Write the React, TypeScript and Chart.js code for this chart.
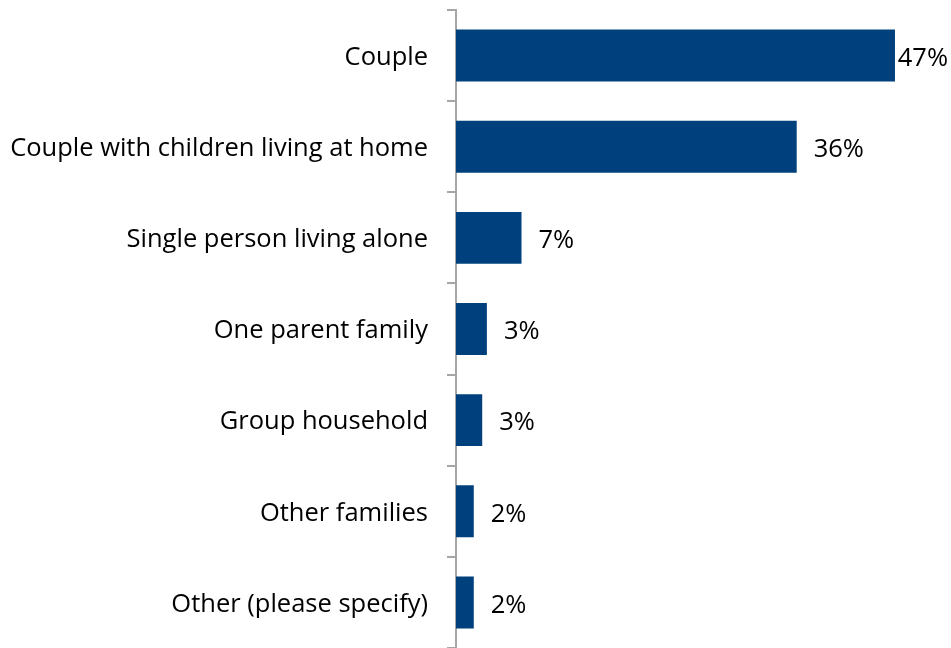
import React, { useEffect, useRef } from "react";
import { Chart, registerables } from "chart.js";

Chart.register(...registerables);

const categories = [
  "Couple",
  "Couple with children living at home",
  "Single person living alone",
  "One parent family",
  "Group household",
  "Other families",
  "Other (please specify)",
];
const values = [46.9, 36.4, 7.0, 3.3, 2.8, 1.9, 1.9];

const FONT = "'Open Sans', 'Noto Sans', sans-serif";
const BAR = "#00417D";

const valueLabels = {
  id: "valueLabels",
  afterDatasetsDraw(chart: any) {
    const ctx = chart.ctx;
    const meta = chart.getDatasetMeta(0);
    ctx.save();
    ctx.font = `25.5px ${FONT}`;
    ctx.fillStyle = "#000";
    ctx.textBaseline = "middle";
    ctx.textAlign = "left";
    meta.data.forEach((bar: any, i: number) => {
      const text = Math.round(values[i]) + "%";
      const w = ctx.measureText(text).width;
      let x = bar.x + 17;
      if (x + w > chart.width - 3) x = chart.width - w - 3;
      ctx.fillText(text, x, bar.y + 3);
    });
    ctx.restore();
  },
};

export default function App() {
  const ref = useRef<HTMLCanvasElement>(null);
  useEffect(() => {
    document.body.style.margin = "0";
    const chart = new Chart(ref.current!, {
      type: "bar",
      data: {
        labels: categories,
        datasets: [
          {
            data: values,
            backgroundColor: BAR,
            barPercentage: 0.57,
            categoryPercentage: 1,
          },
        ],
      },
      options: {
        indexAxis: "y",
        animation: false,
        responsive: false,
        maintainAspectRatio: false,
        layout: { padding: { top: 10, right: 27, bottom: 0, left: 0 } },
        plugins: { legend: { display: false }, tooltip: { enabled: false } },
        scales: {
          x: { display: false, min: 0, max: 50 },
          y: {
            afterFit(scale: any) {
              scale.width = 456;
              scale.paddingTop = 0;
              scale.paddingBottom = 0;
            },
            border: { display: true, color: "#A6A6A6", width: 2 },
            grid: {
              drawOnChartArea: false,
              drawTicks: true,
              tickLength: 9,
              color: "#A6A6A6",
              lineWidth: 2,
              offset: true,
            },
            ticks: {
              color: "#000",
              padding: 19,
              labelOffset: 2,
              font: { family: FONT, size: 25.5 },
            },
          },
        },
      },
      plugins: [valueLabels],
    });
    return () => chart.destroy();
  }, []);
  return (
    <div style={{ width: 951, height: 648 }}>
      <canvas ref={ref} width={951} height={648} />
    </div>
  );
}
